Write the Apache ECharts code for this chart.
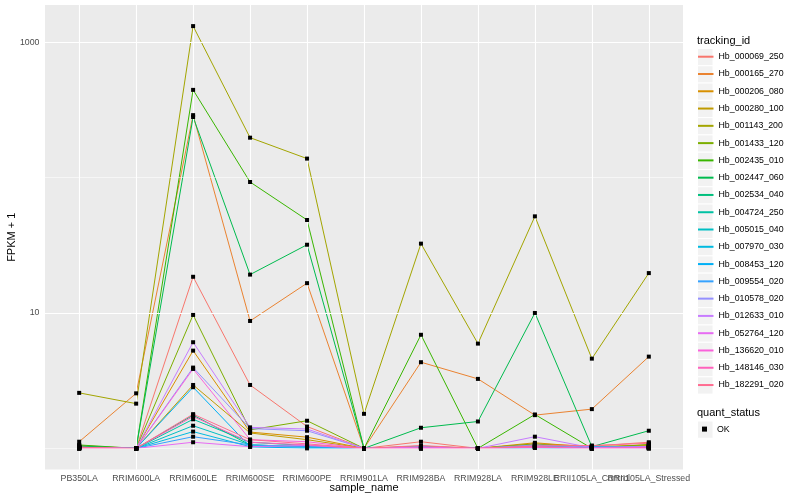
<!DOCTYPE html>
<html><head><meta charset="utf-8">
<script src="https://cdn.jsdelivr.net/npm/echarts@6/dist/echarts.min.js"></script>
<style>html,body{margin:0;padding:0;background:#fff}#c{width:800px;height:500px}</style>
</head><body><div id="c"></div>
<script>
// ---- data (values are FPKM + 1) ----
const categories = ["PB350LA","RRIM600LA","RRIM600LE","RRIM600SE","RRIM600PE","RRIM901LA","RRIM928BA","RRIM928LA","RRIM928LE","RRII105LA_Control","RRII105LA_Stressed"];
const trackingIds = ["Hb_000069_250","Hb_000165_270","Hb_000206_080","Hb_000280_100","Hb_001143_200","Hb_001433_120","Hb_002435_010","Hb_002447_060","Hb_002534_040","Hb_004724_250","Hb_005015_040","Hb_007970_030","Hb_008453_120","Hb_009554_020","Hb_010578_020","Hb_012633_010","Hb_052764_120","Hb_136620_010","Hb_148146_030","Hb_182291_020"];
const colors = ["#F8766D","#EA8331","#D89000","#C09B00","#A3A500","#7CAE00","#39B600","#00BB4E","#00BF7D","#00C1A3","#00BFC4","#00BAE0","#00B0F6","#35A2FF","#9590FF","#C77CFF","#E76BF3","#FA62DB","#FF62BC","#FF6C91"];

const hb_000069_250 = [1.05, 1.00, 18.5, 2.94, 1.45, 1.00, 1.12, 1.00, 1.08, 1.04, 1.11];
const hb_000165_270 = [1.12, 2.55, 289, 8.73, 16.6, 1.00, 4.33, 3.26, 1.76, 1.95, 4.76];
const hb_000206_080 = [1.02, 1.00, 5.27, 1.32, 1.21, 1.00, 1.03, 1.00, 1.10, 1.02, 1.05];
const hb_000280_100 = [1.03, 1.00, 2.94, 1.30, 1.16, 1.00, 1.02, 1.00, 1.06, 1.03, 1.06];
const hb_001143_200 = [2.57, 2.14, 1313, 197, 138, 1.80, 32.5, 5.94, 51.7, 4.60, 19.7];
const hb_001433_120 = [1.02, 1.00, 9.67, 1.37, 1.60, 1.00, 1.04, 1.00, 1.08, 1.00, 1.07];
const hb_002435_010 = [1.06, 1.00, 444, 92.7, 48.6, 1.00, 6.90, 1.00, 1.78, 1.00, 1.03];
const hb_002447_060 = [1.04, 1.00, 280, 19.2, 31.9, 1.00, 1.42, 1.58, 10.0, 1.03, 1.35];
const hb_002534_040 = [1.00, 1.00, 1.76, 1.06, 1.03, 1.00, 1.00, 1.00, 1.02, 1.00, 1.01];
const hb_004724_250 = [1.01, 1.00, 1.64, 1.11, 1.05, 1.00, 1.01, 1.00, 1.03, 1.01, 1.02];
const hb_005015_040 = [1.00, 1.00, 1.47, 1.06, 1.03, 1.00, 1.00, 1.00, 1.01, 1.00, 1.00];
const hb_007970_030 = [1.01, 1.00, 1.33, 1.03, 1.02, 1.00, 1.02, 1.00, 1.02, 1.02, 1.02];
const hb_008453_120 = [1.00, 1.00, 2.83, 1.03, 1.00, 1.00, 1.01, 1.00, 1.04, 1.03, 1.02];
const hb_009554_020 = [1.00, 1.00, 1.22, 1.06, 1.03, 1.00, 1.00, 1.00, 1.01, 1.00, 1.00];
const hb_010578_020 = [1.02, 1.00, 3.95, 1.40, 1.35, 1.00, 1.03, 1.00, 1.06, 1.02, 1.03];
const hb_012633_010 = [1.01, 1.00, 6.08, 1.43, 1.39, 1.00, 1.02, 1.00, 1.22, 1.01, 1.03];
const hb_052764_120 = [1.00, 1.00, 1.11, 1.03, 1.05, 1.00, 1.00, 1.00, 1.02, 1.00, 1.00];
const hb_136620_010 = [1.01, 1.00, 3.86, 1.16, 1.12, 1.00, 1.01, 1.00, 1.03, 1.00, 1.02];
const hb_148146_030 = [1.00, 1.00, 1.72, 1.11, 1.06, 1.00, 1.00, 1.00, 1.02, 1.00, 1.01];
const hb_182291_020 = [1.02, 1.00, 1.79, 1.16, 1.08, 1.00, 1.05, 1.00, 1.04, 1.05, 1.09];

const seriesValues = [hb_000069_250, hb_000165_270, hb_000206_080, hb_000280_100, hb_001143_200,
  hb_001433_120, hb_002435_010, hb_002447_060, hb_002534_040, hb_004724_250, hb_005015_040,
  hb_007970_030, hb_008453_120, hb_009554_020, hb_010578_020, hb_012633_010, hb_052764_120,
  hb_136620_010, hb_148146_030, hb_182291_020];

const yMajorTicks = [10, 1000];
const yMinorTicks = [1, 100];
const quantStatus = "OK";

// ---- build ----
const FONT = "Liberation Sans, Arial, Helvetica, sans-serif";
const lg = v => Math.log10(v);
let maxLog = 0, minLog = Infinity;
seriesValues.forEach(a => a.forEach(v => { maxLog = Math.max(maxLog, lg(v)); minLog = Math.min(minLog, lg(v)); }));
const pad = (maxLog - minLog) * 0.05;
const yMin = minLog - pad, yMax = maxLog + pad;
const xIdx = categories.map((_, i) => i);
// label order: keep the last label's neighbour non-overlapping so ECharts keeps all labels (as ggplot does)
const n = categories.length;
const xLabelOrder = [...xIdx.slice(0, n - 3), n - 2, n - 3, n - 1];

const lineSeries = seriesValues.map((vals, k) => ({
  name: trackingIds[k],
  type: 'line',
  symbol: 'none',
  data: vals.map((v, i) => [i, lg(v)]),
  lineStyle: { color: colors[k], width: 1 },
  itemStyle: { color: colors[k] },
  z: 2,
  animation: false,
  silent: true
}));

const pts = [];
seriesValues.forEach(vals => vals.forEach((v, i) => pts.push([i, lg(v)])));

const scatter = {
  name: quantStatus,
  type: 'scatter',
  symbol: 'rect',
  symbolSize: 4,
  itemStyle: { color: '#000', opacity: 1 },
  data: pts,
  z: 5,
  animation: false,
  silent: true
};

const gridSeries = {
  name: '__grid',
  type: 'scatter',
  data: [],
  z: 1,
  silent: true,
  animation: false,
  markLine: {
    silent: true, symbol: 'none', label: { show: false }, animation: false,
    data: [
      ...yMinorTicks.map(v => ({ yAxis: lg(v), lineStyle: { color: '#fff', width: 0.55, type: 'solid' } })),
      ...yMajorTicks.map(v => ({ yAxis: lg(v), lineStyle: { color: '#fff', width: 1.1, type: 'solid' } })),
      ...xIdx.map(i => ({ xAxis: i, lineStyle: { color: '#fff', width: 1.1, type: 'solid' } }))
    ]
  }
};

const keyH = 17.28, legTop = 48;
const keyStyle = { fill: '#F2F2F2', stroke: '#fff', lineWidth: 1 };
const keyRects = trackingIds.map((_, i) => ({
  type: 'rect', left: 697, top: legTop + i * keyH, z: 0,
  shape: { width: 15.5, height: keyH }, style: keyStyle
}));
keyRects.push({ type: 'rect', left: 697, top: 420.5, z: 0, shape: { width: 15.5, height: keyH }, style: keyStyle });

const option = {
  backgroundColor: '#fff',
  animation: false,
  textStyle: { fontFamily: FONT },
  grid: { left: 45, right: 117, top: 5, bottom: 30.5, show: true, backgroundColor: '#EBEBEB', borderWidth: 0, containLabel: false, outerBoundsMode: 'none' },
  xAxis: {
    type: 'value', min: -0.6, max: 10.6,
    name: 'sample_name', nameLocation: 'middle', nameGap: 18.5, nameMoveOverlap: false,
    nameTextStyle: { fontSize: 11, color: '#000', fontFamily: FONT, verticalAlign: 'middle' },
    axisLine: { show: false },
    axisTick: { show: true, length: 3, lineStyle: { color: '#333', width: 1 }, customValues: xIdx },
    axisLabel: { customValues: xLabelOrder, formatter: v => categories[Math.round(v)], fontSize: 8.8, color: '#4D4D4D', margin: 4.5, fontFamily: FONT, hideOverlap: false, showMinLabel: true, showMaxLabel: true },
    splitLine: { show: false }
  },
  yAxis: {
    type: 'value', min: yMin, max: yMax,
    name: 'FPKM + 1', nameLocation: 'middle', nameGap: 28, nameRotate: 90, nameMoveOverlap: false,
    nameTextStyle: { fontSize: 11, color: '#000', fontFamily: FONT },
    axisLine: { show: false },
    axisTick: { show: true, length: 3, lineStyle: { color: '#333', width: 1 }, customValues: yMajorTicks.map(lg) },
    axisLabel: { customValues: yMajorTicks.map(lg), formatter: v => String(Math.round(Math.pow(10, v))), fontSize: 8.8, color: '#4D4D4D', margin: 5.5, fontFamily: FONT },
    splitLine: { show: false }
  },
  legend: [
    {
      data: trackingIds, orient: 'vertical', left: 697, top: legTop + 1.8, padding: 0,
      itemWidth: 15.5, itemHeight: keyH, itemGap: keyH * 0.2, selectedMode: false,
      itemStyle: { color: 'rgba(0,0,0,0)', borderWidth: 0, opacity: 0 },
      textStyle: { fontSize: 8.8, color: '#000', fontFamily: FONT }
    },
    {
      data: [{ name: quantStatus, icon: 'rect' }], orient: 'vertical', left: 702, top: 424.6, padding: 0,
      itemWidth: 5, itemHeight: 5, selectedMode: false,
      textStyle: { fontSize: 8.8, color: '#000', fontFamily: FONT, padding: [0, 0, 0, 5] }
    }
  ],
  graphic: [
    ...keyRects,
    { type: 'text', left: 697, top: 35, z: 10, style: { text: 'tracking_id', fontSize: 11, fill: '#000', fontFamily: FONT } },
    { type: 'text', left: 697, top: 407.5, z: 10, style: { text: 'quant_status', fontSize: 11, fill: '#000', fontFamily: FONT } }
  ],
  series: [gridSeries, ...lineSeries, scatter]
};

const chart = echarts.init(document.getElementById('c'), null, { renderer: 'canvas' });
chart.setOption(option);
</script>
</body></html>
